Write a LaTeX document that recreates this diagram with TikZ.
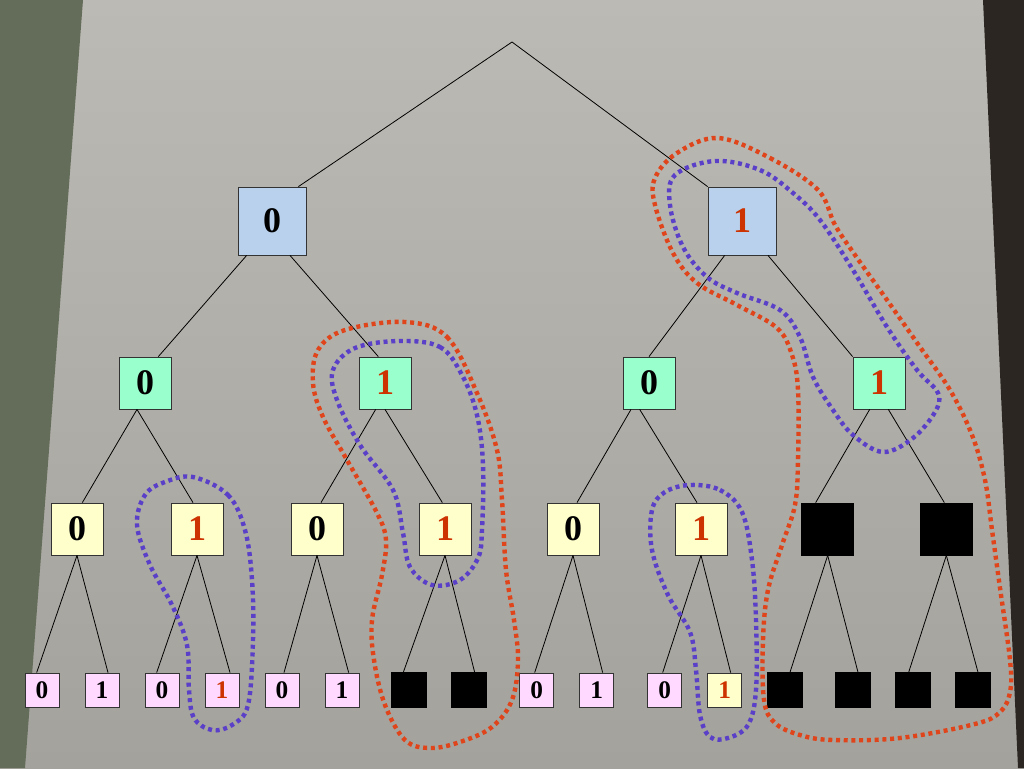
\documentclass[tikz,border=0pt]{standalone}
\usepackage{fontspec}
\setmainfont{Liberation Serif}
\definecolor{slidetop}{HTML}{BCBAB4}
\definecolor{slidebottom}{HTML}{A4A29C}
\definecolor{wallgreen}{HTML}{646C5A}
\definecolor{walldark}{HTML}{2B2622}
\definecolor{rootblue}{HTML}{B9D1EC}
\definecolor{midgreen}{HTML}{99FFCC}
\definecolor{lowyellow}{HTML}{FFFFCC}
\definecolor{leafpink}{HTML}{FFD9FF}
\definecolor{hitred}{HTML}{CC3300}
\definecolor{loopred}{HTML}{E0441A}
\definecolor{loopblue}{HTML}{5A3FC8}

\begin{document}
\begin{tikzpicture}[x=0.75pt,y=-0.75pt,node distance=45pt,
    box/.style={draw=black!80,line width=0.6pt,inner sep=0pt,font=\bfseries\fontsize{27}{27}\selectfont},
    lvlone/.style={box,fill=rootblue,minimum size=51pt},
    lvltwo/.style={box,fill=midgreen,minimum size=39pt},
    lvlthree/.style={box,fill=lowyellow,minimum size=39pt},
    leaf/.style={box,fill=leafpink,minimum size=25.5pt,font=\bfseries\fontsize{19}{19}\selectfont},
    cut/.style={box,fill=black,draw=black,minimum size=39pt},
    cutleaf/.style={box,fill=black,draw=black,minimum size=26pt},
    hit/.style={text=hitred},
    branch/.style={line width=0.6pt},
    redloop/.style={draw=loopred,line width=3.3pt,dash pattern=on 3pt off 2.8pt},
    blueloop/.style={draw=loopblue,line width=3.3pt,dash pattern=on 3pt off 2.8pt}]
    \useasboundingbox (0,0) rectangle (1024,768);
    % slide and walls
    \shade[top color=slidetop,bottom color=slidebottom] (0,0) rectangle (1024,768);
    \fill[wallgreen] (0,0) -- (83,0) -- (25,768) -- (0,768) -- cycle;
    \fill[walldark] (983,0) -- (1024,0) -- (1024,768) -- (1018,768) -- cycle;

    \coordinate (root) at (512,42);

    % level 1
    \node[lvlone] (l0) at (272,221) {0};
    \node[lvlone, hit] (l1) [right of=l0, node distance=352.5pt] {1};

    % level 2
    \node[lvltwo] (m0) at (145,383) {0};
    \node[lvltwo, hit] (m1) [right of=m0, node distance=180pt] {1};
    \node[lvltwo] (m2) [right of=m1, node distance=198pt] {0};
    \node[lvltwo, hit] (m3) [right of=m2, node distance=172.5pt] {1};

    % level 3
    \node[lvlthree] (n0) at (77,529) {0};
    \node[lvlthree, hit] (n1) [right of=n0, node distance=90pt] {1};
    \node[lvlthree] (n2) [right of=n1, node distance=90pt] {0};
    \node[lvlthree, hit] (n3) [right of=n2, node distance=96pt] {1};
    \node[lvlthree] (n4) [right of=n3, node distance=96pt] {0};
    \node[lvlthree, hit] (n5) [right of=n4, node distance=96pt] {1};
    \node[cut] (n6) [right of=n5, node distance=95pt] {};
    \node[cut] (n7) [right of=n6, node distance=89pt] {};

    % leaves
    \node[leaf] (f0) at (42,690) {0};
    \node[leaf] (f1) [right of=f0] {1};
    \node[leaf] (f2) [right of=f1] {0};
    \node[leaf, hit] (f3) [right of=f2] {1};
    \node[leaf] (f4) [right of=f3] {0};
    \node[leaf] (f5) [right of=f4] {1};
    \node[cutleaf] (f6) [right of=f5, node distance=50pt] {};
    \node[cutleaf] (f7) [right of=f6] {};
    \node[leaf] (f8) [right of=f7, node distance=51pt] {0};
    \node[leaf] (f9) [right of=f8] {1};
    \node[leaf] (f10) [right of=f9, node distance=51pt] {0};
    \node[leaf, hit, fill=lowyellow] (f11) [right of=f10] {1};
    \node[cutleaf] (f12) [right of=f11] {};
    \node[cutleaf] (f13) [right of=f12, node distance=51pt] {};
    \node[cutleaf] (f14) [right of=f13] {};
    \node[cutleaf] (f15) [right of=f14] {};

    \path[branch] (root) edge ([xshift=-6pt]l0.north east);
    \path[branch] (root) edge (l1.north west);
    \path[branch] ([xshift=-19pt]l0.south) edge ([xshift=10pt]m0.north);
    \path[branch] ([xshift=13.5pt]l0.south) edge ([xshift=-5pt]m1.north);
    \path[branch] ([xshift=-13pt]l1.south) edge (m2.north);
    \path[branch] ([xshift=19.5pt]l1.south) edge (m3.north west);

    \path[branch] ([xshift=-6pt]m0.south) edge ([xshift=4pt]n0.north);
    \path[branch] ([xshift=-6pt]m0.south) edge ([xshift=-3pt]n1.north);
    \path[branch] ([xshift=-7pt]m1.south) edge ([xshift=3pt]n2.north);
    \path[branch] (m1.south) edge ([xshift=-2pt]n3.north);
    \path[branch] ([xshift=-13.5pt]m2.south) edge ([xshift=3pt]n4.north);
    \path[branch] ([xshift=-7pt]m2.south) edge ([xshift=-3pt]n5.north);
    \path[branch] ([xshift=-7pt]m3.south) edge ([xshift=-9pt]n6.north);
    \path[branch] ([xshift=7pt]m3.south) edge ([xshift=-1.5pt]n7.north);

    \path[branch] (n0.south) edge ([xshift=-4pt]f0.north);
    \path[branch] (n0.south) edge ([xshift=4.5pt]f1.north);
    \path[branch] (n1.south) edge ([xshift=-4pt]f2.north);
    \path[branch] (n1.south) edge ([xshift=6pt]f3.north);
    \path[branch] (n2.south) edge ([xshift=1.5pt]f4.north);
    \path[branch] (n2.south) edge ([xshift=5pt]f5.north);
    \path[branch] (n3.south) edge ([xshift=-4pt]f6.north);
    \path[branch] (n3.south) edge ([xshift=4.5pt]f7.north);
    \path[branch] (n4.south) edge ([xshift=-1.5pt]f8.north);
    \path[branch] (n4.south) edge ([xshift=4.5pt]f9.north);
    \path[branch] (n5.south) edge ([xshift=-1.5pt]f10.north);
    \path[branch] (n5.south) edge ([xshift=4.5pt]f11.north);
    \path[branch] (n6.south) edge ([xshift=4pt]f12.north);
    \path[branch] (n6.south) edge ([xshift=4pt]f13.north);
    \path[branch] (n7.south) edge ([xshift=-3pt]f14.north);
    \path[branch] (n7.south) edge ([xshift=4pt]f15.north);

    % dotted loops
    \draw[blueloop] plot[smooth cycle, tension=0.6] coordinates {(193,477) (228,495) (245,530) (252,580) (253,640) (248,705) (232,725) (212,730) (194,718) (189,690) (187,645) (172,605) (150,565) (137,525) (145,495) (165,482)};
    \draw[redloop] plot[smooth cycle, tension=0.6] coordinates {(405,322) (447,337) (477,393) (497,450) (502,500) (506,570) (514,620) (518,660) (512,700) (492,727) (460,742) (430,748) (405,740) (385,705) (374,660) (372,620) (382,575) (386,540) (377,513) (347,460) (323,417) (313,383) (318,350) (345,330)};
    \draw[blueloop] plot[smooth cycle, tension=0.6] coordinates {(400,341) (440,347) (462,375) (477,415) (483,465) (482,530) (478,558) (460,580) (432,585) (410,567) (403,533) (393,490) (360,445) (337,400) (333,370) (355,348)};
    \draw[blueloop] plot[smooth cycle, tension=0.6] coordinates {(690,485) (720,490) (742,512) (752,560) (756,620) (756,690) (748,725) (728,738) (710,737) (700,715) (696,670) (690,632) (668,595) (652,550) (652,510) (665,492)};
    \draw[blueloop] plot[smooth cycle, tension=0.6] coordinates {(715,161) (760,170) (793,193) (820,220) (853,270) (887,327) (917,370) (938,393) (935,412) (913,438) (883,452) (853,435) (833,410) (813,377) (800,337) (780,310) (737,293) (707,277) (683,247) (670,205) (675,175)};
    \draw[redloop] plot[smooth cycle, tension=0.6] coordinates {(718,138) (770,158) (818,190) (835,225) (855,255) (887,300) (920,347) (950,390) (972,435) (985,480) (992,530) (1000,588) (1010,660) (1010,692) (1000,712) (975,724) (900,738) (833,740) (800,735) (775,723) (764,700) (763,640) (768,590) (782,545) (795,505) (798,460) (798,390) (792,355) (777,328) (737,305) (697,283) (673,253) (655,205) (655,178) (677,153)};
\end{tikzpicture}
\end{document}
